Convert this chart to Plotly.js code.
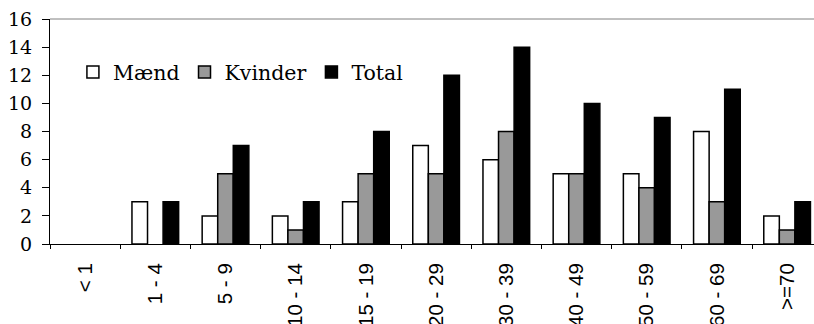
<!DOCTYPE html>
<html>
<head>
<meta charset="utf-8">
<script src="https://cdn.plot.ly/plotly-3.0.1.min.js"></script>
<style>html,body{margin:0;padding:0;background:#fff;overflow:hidden;}#chart{width:814px;height:324px;}</style>
</head>
<body>
<div id="chart"></div>
<script>
const categories = ["< 1", "1 - 4", "5 - 9", "10 - 14", "15 - 19", "20 - 29", "30 - 39", "40 - 49", "50 - 59", "60 - 69", ">=70"];
const maend   = [0, 3, 2, 2, 3, 7, 6, 5, 5, 8, 2];
const kvinder = [0, 0, 5, 1, 5, 5, 8, 5, 4, 3, 1];
const total   = [0, 3, 7, 3, 8, 12, 14, 10, 9, 11, 3];
const seriesNames = ["Mænd", "Kvinder", "Total"];
const yTicks = [0, 2, 4, 6, 8, 10, 12, 14, 16];

const colors = ["#ffffff", "#999999", "#000000"];
// zero-height bars are not drawn in the original (no outline on the baseline)
const data = [maend, kvinder, total].map((vals, i) => ({
  type: "bar",
  name: seriesNames[i],
  x: categories,
  y: vals.map(v => (v === 0 ? null : v)),
  marker: {color: colors[i], line: {color: "#000", width: 1.5}},
  hoverinfo: "skip"
}));

const layout = {
  width: 814, height: 324,
  margin: {l: 50, r: 0, t: 19, b: 80, pad: 0},
  paper_bgcolor: "#fff", plot_bgcolor: "#fff",
  barmode: "group",
  bargap: 0.335,
  bargroupgap: 0,
  font: {family: "DejaVu Serif", size: 19, color: "#000"},
  xaxis: {
    type: "category",
    categoryorder: "array",
    categoryarray: categories,
    range: [-0.5, 10.383],
    tickson: "boundaries",
    ticks: "outside", ticklen: 4, tickwidth: 1, tickcolor: "#000",
    showline: true, linecolor: "#000", linewidth: 1,
    showgrid: false, zeroline: false,
    tickangle: -90,
    ticklabelstandoff: 10,
    tickfont: {family: "Liberation Sans", size: 20.5, color: "#000"},
    fixedrange: true
  },
  yaxis: {
    range: [0, 16],
    tickvals: yTicks,
    ticktext: yTicks.map(String),
    ticks: "outside", ticklen: 7, tickwidth: 1, tickcolor: "#000",
    showline: true, linecolor: "#000", linewidth: 1,
    showgrid: false, zeroline: false,
    ticklabelstandoff: 6,
    tickfont: {family: "DejaVu Serif", size: 19, color: "#000"},
    fixedrange: true
  },
  shapes: [{type: "line", xref: "paper", yref: "paper", x0: 0, x1: 1, y0: 1, y1: 1, line: {color: "#808080", width: 1}}],
  showlegend: true,
  legend: {
    orientation: "h",
    x: 0.03, y: 0.764, xanchor: "left", yanchor: "middle",
    bgcolor: "rgba(0,0,0,0)",
    font: {family: "DejaVu Serif", size: 20.5, color: "#000"},
    itemwidth: 30,
    tracegroupgap: 0
  }
};

Plotly.newPlot("chart", data, layout, {staticPlot: true, displayModeBar: false});
</script>
</body>
</html>
